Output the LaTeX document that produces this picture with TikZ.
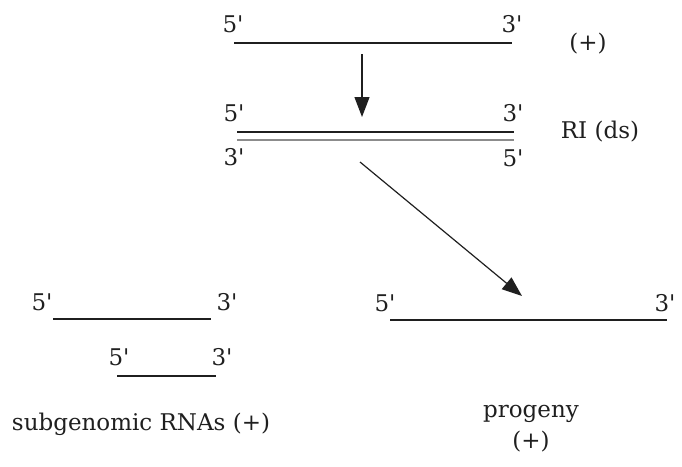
\documentclass[tikz,border=0pt]{standalone}
\usepackage{fontspec}
\setmainfont{DejaVu Serif}
\usetikzlibrary{arrows.meta}
\begin{document}
\begin{tikzpicture}[x=1pt,y=-1pt,
  strand/.style={line width=2.8pt,black!88},
  minus/.style={line width=2pt,black!45},
  lbl/.style={inner sep=0pt,font=\fontsize{23}{27}\selectfont,text=black!88},
  arr/.style={line width=1.2pt,black!88,-{Triangle[length=20pt,width=15pt]}}]
\useasboundingbox (0,0) rectangle (682,466);
% top (+) strand
\coordinate (t1) at (234,43); \coordinate (t2) at (512,43);
\draw[strand] (t1) -- (t2);
\node[lbl] (t5) at (233,24) {5\textquotesingle};
\node[lbl] (t3) at (512,24) {3\textquotesingle};
\node[lbl] (tp) at (588,44) {(+)};
% RI
\coordinate (r1) at (237,132); \coordinate (r2) at (514,132);
\coordinate (s1) at (237,140); \coordinate (s2) at (514,140);
\draw[strand] (r1) -- (r2);
\draw[minus] (s1) -- (s2);
\node[lbl] (r5) at (234,113) {5\textquotesingle};
\node[lbl] (r3) at (513,113) {3\textquotesingle};
\node[lbl] (b3) at (234,157) {3\textquotesingle};
\node[lbl] (b5) at (513,158) {5\textquotesingle};
\node[lbl] (ri) at (600,132) {RI (ds)};
% arrows
\coordinate (a1) at (362,54); \coordinate (a2) at (362,117);
\draw[arr] (a1) -- (a2);
\coordinate (d1) at (360,162); \coordinate (d2) at (522,296);
\draw[arr] (d1) -- (d2);
% progeny
\coordinate (p1) at (390,320); \coordinate (p2) at (667,320);
\draw[strand] (p1) -- (p2);
\node[lbl] (p5) at (385,303) {5\textquotesingle};
\node[lbl] (p3) at (665,303) {3\textquotesingle};
\node[lbl] (pg) at (531,414) {progeny};
\node[lbl] (pp) at (531,442) {(+)};
% subgenomic
\coordinate (g1) at (53,319); \coordinate (g2) at (211,319);
\draw[strand] (g1) -- (g2);
\node[lbl] (g5) at (42,302) {5\textquotesingle};
\node[lbl] (g3) at (227,302) {3\textquotesingle};
\coordinate (h1) at (117,376); \coordinate (h2) at (216,376);
\draw[strand] (h1) -- (h2);
\node[lbl] (h5) at (119,357) {5\textquotesingle};
\node[lbl] (h3) at (222,357) {3\textquotesingle};
\node[lbl] (sg) at (141,424) {subgenomic RNAs (+)};
\end{tikzpicture}
\end{document}
